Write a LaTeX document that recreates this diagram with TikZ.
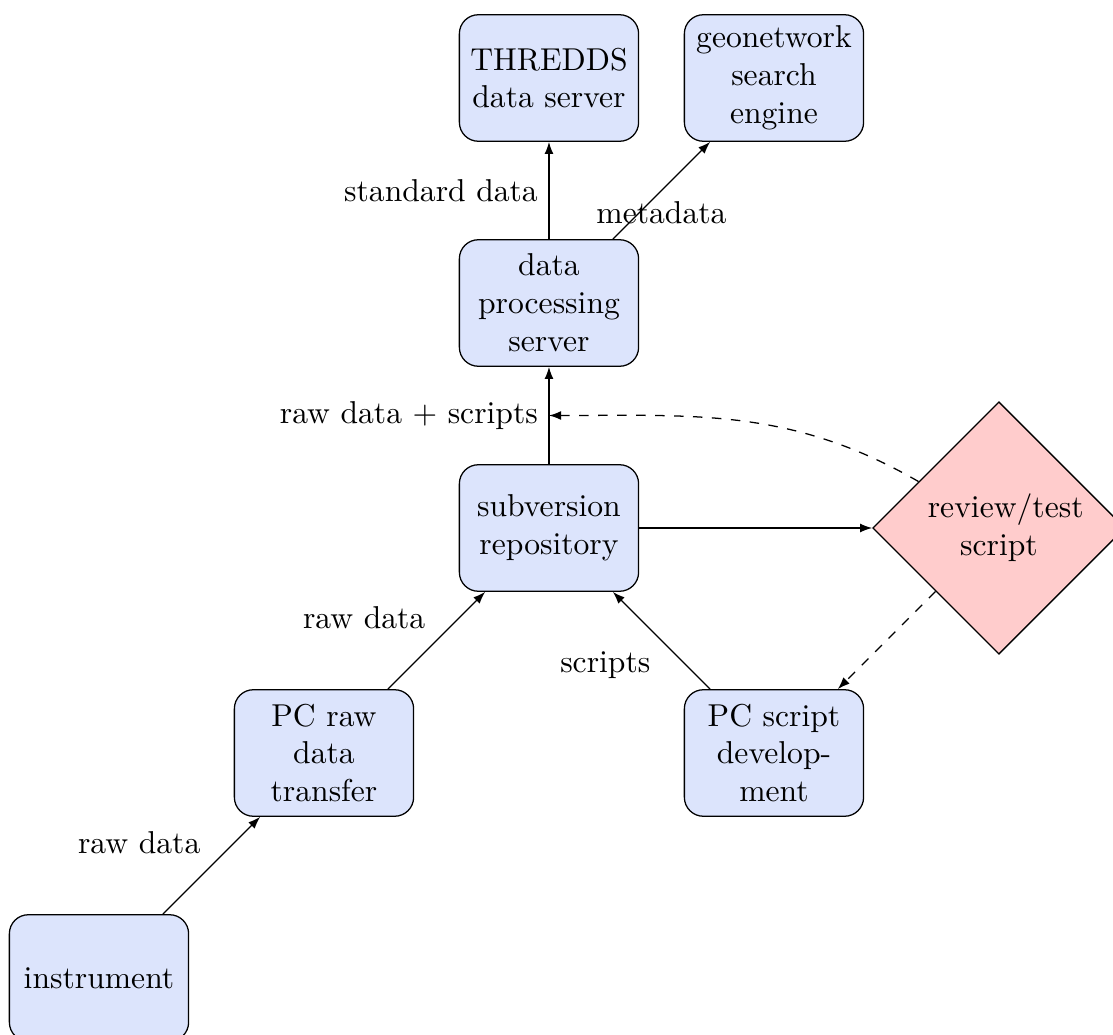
\documentclass[tikz,border=0pt]{standalone}
\usepackage{tikz}
\usepackage{xcolor}
\usetikzlibrary{positioning}
\usetikzlibrary{shapes.geometric}
\usetikzlibrary{arrows.meta}
\definecolor{blockblue}{HTML}{DCE4FC}
\definecolor{checkred}{HTML}{FFCCCC}
\hyphenation{develop-ment}
\tikzset{
  % A machine or service in the data flow
  block/.style={
    draw=black, fill=blockblue, rectangle, rounded corners=6pt,
    align=center, text width=5em, minimum height=4em},
  % The manual review step
  decision/.style={
    diamond, draw=black, fill=checkred, align=center, text width=4.5em},
  % Connections
  flow/.style={-{Latex[length=3.8pt, width=2.8pt]}, draw=black},
  check/.style={-{Latex[length=3.8pt, width=2.8pt]}, draw=black, dashed},
}

\begin{document}
\begin{tikzpicture}[node distance=2.5cm, on grid]

\useasboundingbox (-1.1,-0.633) rectangle (11.267,10.867);

\node[block] (instrument) {instrument};
\node[block, above right=2.5cm and 2.5cm of instrument] (pcraw) {PC raw data transfer};
\node[block, above right=2.5cm and 2.5cm of pcraw] (repo) {subversion repository};
\node[block, below right=2.5cm and 2.5cm of repo] (pcscript) {PC script development};
\node[block, above=of repo] (proc) {data processing server};
\node[block, above=of proc] (thredds) {THREDDS data server};
\node[block, above right=2.5cm and 2.5cm of proc] (geonet) {geonetwork search engine};
\node[decision, right=5cm of repo] (review) {review/test script};

\draw[flow] (instrument) -- node[above left]{raw data} (pcraw);
\draw[flow] (pcraw) -- node[above left]{raw data} (repo);
\draw[flow] (pcscript) -- node[below left]{scripts} (repo);
\draw[flow] (repo) -- node[left]{raw data + scripts} coordinate (rawmid) (proc);
\draw[flow] (proc) -- node[left]{standard data} (thredds);
\draw[flow] (proc) -- node[below]{metadata} (geonet);
\draw[flow] (repo) -- (review);
\draw[check] (review) -- (pcscript);
\draw[check] (review) to[out=150, in=0] (rawmid);

\end{tikzpicture}
\end{document}
